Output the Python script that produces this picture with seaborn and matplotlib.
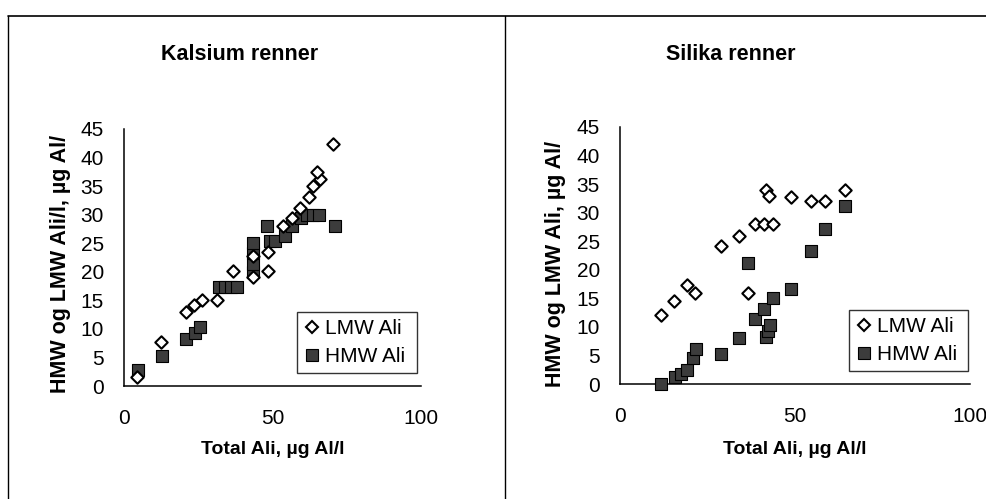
import matplotlib
matplotlib.use("Agg")
import matplotlib.pyplot as plt
from matplotlib.lines import Line2D
import pandas as pd
import seaborn as sns

# Kalsium renner
kal_lmw_x = [4.5, 12.4, 20.9, 23.7, 26.2, 31.4, 36.8, 43.3, 43.3, 48.6, 48.6, 53.6,
             56.5, 59.3, 62.4, 63.7, 66.0, 64.9, 70.5]
kal_lmw_y = [1.5, 7.7, 12.9, 14.1, 15.0, 15.0, 20.1, 19.0, 22.7, 20.1, 23.4, 28.0,
             29.5, 31.2, 33.1, 35.0, 36.2, 37.4, 42.4]
kal_hmw_x = [4.8, 12.7, 20.9, 23.9, 25.6, 32.0, 34.0, 36.0, 38.0, 43.5, 43.5, 43.5,
             43.5, 48.0, 49.2, 51.0, 54.2, 56.5, 59.5, 61.5, 63.5, 65.5, 71.0]
kal_hmw_y = [2.8, 5.3, 8.2, 9.3, 10.4, 17.3, 17.3, 17.3, 17.3, 20.0, 21.3, 23.3,
             25.1, 28.1, 25.4, 25.4, 26.2, 28.1, 29.5, 30.0, 30.0, 30.0, 28.1]

# Silika renner
sil_lmw_x = [11.7, 15.4, 19.0, 21.4, 28.9, 34.1, 36.5, 38.5, 41.0, 43.6, 41.6, 42.7,
             48.8, 54.5, 58.6, 64.3]
sil_lmw_y = [12.1, 14.6, 17.3, 15.9, 24.1, 26.0, 16.0, 28.0, 28.0, 28.0, 33.9, 33.0,
             32.7, 32.1, 32.1, 34.0]
sil_hmw_x = [11.7, 15.6, 17.3, 19.0, 20.8, 21.7, 28.9, 34.0, 36.5, 38.6, 41.0, 41.7,
             42.2, 42.9, 43.6, 48.8, 54.6, 58.7, 64.3]
sil_hmw_y = [0.0, 1.2, 1.8, 2.5, 4.5, 6.1, 5.2, 8.0, 21.1, 11.3, 13.2, 8.2,
             9.2, 10.4, 15.1, 16.6, 23.3, 27.1, 31.2]

titles = ["Kalsium renner", "Silika renner"]
ylabels = ["HMW og LMW Ali/l, µg Al/", "HMW og LMW Ali, µg Al/"]
xlabel = "Total Ali, µg Al/l"
series_names = ["LMW Ali", "HMW Ali"]

sns.set_style("white")
plt.rcParams["font.family"] = ["Liberation Sans", "DejaVu Sans"]
plt.rcParams["text.color"] = "black"

FW, FH = 987, 499
fig = plt.figure(figsize=(FW / 100, FH / 100), dpi=100)

# panel frames
top = 1 - 16 / FH
fig.add_artist(Line2D([8 / FW, 1], [top, top], color="k", lw=1.2))
fig.add_artist(Line2D([8 / FW] * 2, [0, top], color="k", lw=1))
fig.add_artist(Line2D([505 / FW] * 2, [0, top], color="k", lw=1))

axes = [
    fig.add_axes([124 / FW, 1 - 386 / FH, 297 / FW, 257 / FH]),
    fig.add_axes([620 / FW, 1 - 384 / FH, 350 / FW, 257 / FH]),
]
data = [
    (kal_lmw_x, kal_lmw_y, kal_hmw_x, kal_hmw_y),
    (sil_lmw_x, sil_lmw_y, sil_hmw_x, sil_hmw_y),
]
title_x = [240, 731]
ylabel_x = [61, 556]
legend_box = [(297, 305, 417, 380), (849, 303, 968, 378)]

for i, ax in enumerate(axes):
    lx, ly, hx, hy = data[i]
    df_l = pd.DataFrame({"x": lx, "y": ly})
    df_h = pd.DataFrame({"x": hx, "y": hy})

    sns.scatterplot(data=df_h, x="x", y="y", marker="s", s=85, color="#3c3c3c",
                    edgecolor="black", linewidth=0.8, ax=ax, zorder=3, clip_on=False)
    sns.scatterplot(data=df_l, x="x", y="y", marker="D", s=40, color="white",
                    edgecolor="black", linewidth=1.5, ax=ax, zorder=4, clip_on=False)

    ax.set_xlim(0, 100)
    ax.set_ylim(0, 45)
    ax.set_xticks([0, 50, 100])
    ax.set_yticks(range(0, 50, 5))
    ax.tick_params(direction="inout", length=9, width=1, labelsize=15,
                   color="black", labelcolor="black")
    ax.tick_params(axis="x", pad=12)
    ax.tick_params(axis="y", pad=10)
    for side in ["top", "right"]:
        ax.spines[side].set_visible(False)
    for side in ["left", "bottom"]:
        ax.spines[side].set_color("black")
        ax.spines[side].set_linewidth(1.1)
    ax.set_xlabel("")
    ax.set_ylabel("")

    pos = ax.get_position()
    fig.text(title_x[i] / FW, 1 - 55 / FH, titles[i], ha="center", va="center",
             fontsize=15.5, fontweight="bold")
    fig.text((pos.x0 + pos.x1) / 2, 1 - 450 / FH, xlabel, ha="center",
             va="center", fontsize=14, fontweight="bold")
    fig.text(ylabel_x[i] / FW, 1 - 264 / FH, ylabels[i], ha="center",
             va="center", rotation=90, fontsize=15.5, fontweight="bold")

    handles = [
        Line2D([], [], marker="D", ls="", markersize=6, markerfacecolor="white",
               markeredgecolor="black", markeredgewidth=1.5, label=series_names[0]),
        Line2D([], [], marker="s", ls="", markersize=8, markerfacecolor="#3c3c3c",
               markeredgecolor="black", markeredgewidth=0.8, label=series_names[1]),
    ]
    bx0, by0, bx1, by1 = legend_box[i]
    bbox = ((bx0 / FW - pos.x0) / pos.width, ((1 - by1 / FH) - pos.y0) / pos.height,
            (bx1 - bx0) / FW / pos.width, (by1 - by0) / FH / pos.height)
    leg = ax.legend(handles=handles, loc="center", bbox_to_anchor=bbox, mode="expand",
                    frameon=True, fancybox=False, edgecolor="black", fontsize=15,
                    handlelength=0.7, handletextpad=0.3, borderpad=0.35,
                    labelspacing=0.45, borderaxespad=0)
    leg.get_frame().set_linewidth(1.0)

fig.savefig("out.png", dpi=100)
